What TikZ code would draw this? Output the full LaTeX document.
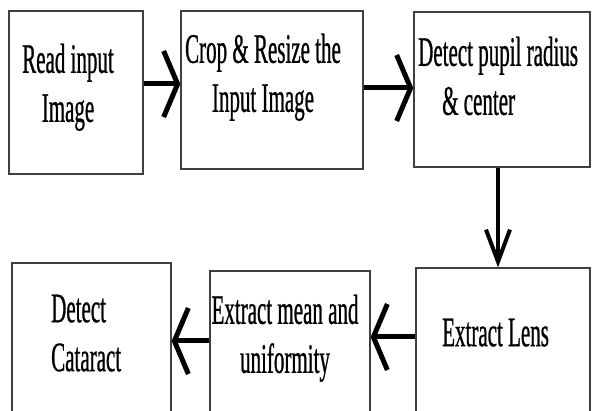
\documentclass[tikz,border=0pt]{standalone}
\usepackage{fontspec}
\usetikzlibrary{arrows.meta}
\newfontfamily\flowfont[FakeStretch=0.5, FakeBold=0.6]{Liberation Serif}

\begin{document}
\begin{tikzpicture}[x=1pt, y=-1pt,
    flowbox/.style={draw=black!75, line width=1.3pt, inner sep=0pt},
    flowtext/.style={inner sep=0pt, font=\flowfont\fontsize{42}{49}\selectfont},
    thickarrow/.style={line width=5pt, -{Straight Barb[length=14pt, width=66pt]}},
    downarrow/.style={line width=4pt, -{Straight Barb[length=32pt, width=24pt]}}]

    % 画布大小
    \useasboundingbox (0,0) rectangle (592,411);
    \clip (0,0) rectangle (592,411);

    % 第一行方框
    \node[flowbox, minimum width=134pt, minimum height=163pt] (read) at (76,92.5) {};
    \node[flowbox, minimum width=182pt, minimum height=158pt] (crop) at (272,90) {};
    \node[flowbox, minimum width=176pt, minimum height=155pt] (pupil) at (502,89.5) {};

    % 第二行方框
    \node[flowbox, minimum width=174pt, minimum height=162pt] (lens) at (503,349) {};
    \node[flowbox, minimum width=160pt, minimum height=159pt] (mean) at (290,350.5) {};
    \node[flowbox, minimum width=159pt, minimum height=167pt] (cataract) at (91.5,346.5) {};

    % 文字
    \node[flowtext, align=center, anchor=north] (readtext) at (68,43.5) {Read input\\Image};
    \node[flowtext, align=center, anchor=north] (croptext) at (263,33.5) {Crop \& Resize the\\Input Image};
    \node[flowtext, align=left, anchor=north west] (pupiltext) at (418,36.5) {Detect pupil radius\\\hspace*{24pt}\& center};
    \node[flowtext, anchor=north west] (lenstext) at (442,318.5) {Extract Lens};
    \node[flowtext, align=center, anchor=north] (meantext) at (285,294.5) {Extract mean and\\uniformity};
    \node[flowtext, align=left, anchor=north west] (cataracttext) at (51,294.5) {Detect\\Cataract};

    % 箭头
    \draw[thickarrow] ([yshift=8.5pt]read.east) -- ([yshift=6pt]crop.west);
    \draw[thickarrow] ([yshift=2pt]crop.east) -- ([yshift=1.5pt]pupil.west);
    \draw[downarrow] ([xshift=-4pt]pupil.south) -- ([xshift=-5pt]lens.north);
    \draw[thickarrow] ([yshift=12pt]lens.west) -- ([yshift=13.5pt]mean.east);
    \draw[thickarrow] ([yshift=9.5pt]mean.west) -- ([yshift=5.5pt]cataract.east);

\end{tikzpicture}
\end{document}
